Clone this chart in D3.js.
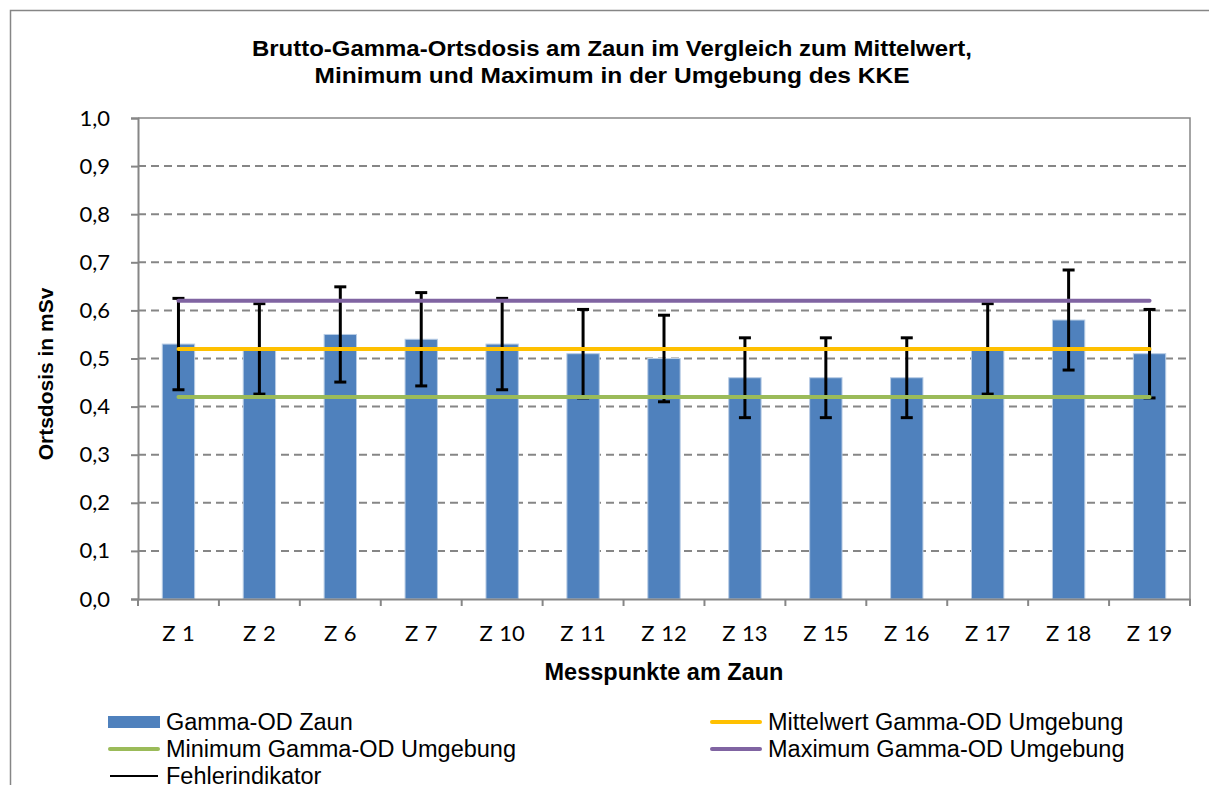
<!DOCTYPE html>
<html><head><meta charset="utf-8">
<script src="https://cdn.jsdelivr.net/npm/d3@7"></script>
<style>body{margin:0;background:#fff}svg{display:block}</style>
</head><body>
<svg id="c" width="1209" height="785"></svg>
<script>
const categories = ["Z 1","Z 2","Z 6","Z 7","Z 10","Z 11","Z 12","Z 13","Z 15","Z 16","Z 17","Z 18","Z 19"];
const zaunValues = [0.53,0.52,0.55,0.54,0.53,0.51,0.50,0.46,0.46,0.46,0.52,0.58,0.51];
const errorValues = [0.095,0.094,0.099,0.097,0.095,0.092,0.090,0.083,0.083,0.083,0.094,0.104,0.092];
const meanValue = 0.52, minValue = 0.42, maxValue = 0.62;
const yTicks = [0,0.1,0.2,0.3,0.4,0.5,0.6,0.7,0.8,0.9,1.0];
const titleLines = ["Brutto-Gamma-Ortsdosis am Zaun im Vergleich zum Mittelwert,","Minimum und Maximum in der Umgebung des KKE"];

const svg = d3.select("#c");
const L=138,R=1190,T=118,B=599;
const x = d3.scaleBand().domain(categories).range([L,R]).paddingInner(0.6).paddingOuter(0.3);
const y = d3.scaleLinear().domain([0,1]).range([B,T]);
const grey="#868686";

svg.append("rect").attr("x",10.5).attr("y",10.5).attr("width",1230).attr("height",800).attr("fill","none").attr("stroke",grey).attr("stroke-width",1.5);

// title
titleLines.forEach((t,i)=>{
  svg.append("text").attr("x",612).attr("y",56+i*27).attr("text-anchor","middle")
    .attr("font-family","Liberation Sans, Arial, sans-serif").attr("font-weight","bold").attr("font-size",22.5)
    .attr("textLength", i===0?720:595).attr("lengthAdjust","spacingAndGlyphs").text(t);
});

// gridlines
svg.append("g").selectAll("line").data(yTicks.filter(d=>d>0&&d<1)).join("line")
  .attr("x1",L).attr("x2",R).attr("y1",d=>y(d)).attr("y2",d=>y(d))
  .attr("stroke",grey).attr("stroke-width",2).attr("stroke-dasharray","8,5");
// plot border top/right
svg.append("path").attr("d",`M${L},${T}H${R}V${B}`).attr("fill","none").attr("stroke",grey).attr("stroke-width",1.5);

// bars
svg.append("g").selectAll("rect").data(zaunValues).join("rect")
  .attr("x",(d,i)=>x(categories[i])).attr("width",x.bandwidth())
  .attr("y",d=>y(d)).attr("height",d=>B-y(d))
  .attr("fill","#4F81BD").attr("stroke","#B9CDE5").attr("stroke-width",1);

// error bars
const eg = svg.append("g").attr("stroke","#000").attr("stroke-width",3);
zaunValues.forEach((v,i)=>{
  const cx = x(categories[i])+x.bandwidth()/2;
  const e = errorValues[i];
  eg.append("line").attr("x1",cx).attr("x2",cx).attr("y1",y(v+e)).attr("y2",y(v-e));
  eg.append("line").attr("x1",cx-6).attr("x2",cx+6).attr("y1",y(v+e)).attr("y2",y(v+e));
  eg.append("line").attr("x1",cx-6).attr("x2",cx+6).attr("y1",y(v-e)).attr("y2",y(v-e));
});

// reference lines
const line = d3.line().x(d=>x(d[0])+x.bandwidth()/2).y(d=>y(d[1]));
[[minValue,"#9BBB59"],[meanValue,"#FFC000"],[maxValue,"#8064A2"]].forEach(([v,c])=>{
  svg.append("path").attr("d",line(categories.map(k=>[k,v]))).attr("fill","none")
    .attr("stroke",c).attr("stroke-width",4).attr("stroke-linecap","round");
});

// y axis
const ya = svg.append("g").attr("transform",`translate(${L},0)`)
  .call(d3.axisLeft(y).tickValues(yTicks).tickSize(7).tickPadding(21).tickFormat(d=>d3.format(".1f")(d).replace(".",",")));
ya.select(".domain").attr("stroke",grey).attr("stroke-width",2);
ya.selectAll(".tick line").attr("stroke",grey).attr("stroke-width",2);
ya.selectAll("text").attr("font-family","Lato, 'Open Sans', sans-serif").attr("font-size",22).attr("fill","#000");

// x axis
const xa = svg.append("g").attr("transform",`translate(0,${B})`)
  .call(d3.axisBottom(x).tickSize(0).tickPadding(26));
xa.select(".domain").attr("stroke",grey).attr("stroke-width",2);
xa.selectAll("text").attr("font-family","Lato, 'Open Sans', sans-serif").attr("font-size",22).attr("fill","#000").attr("word-spacing","1px");
const bounds = d3.range(categories.length+1).map(i=>L+i*x.step());
svg.append("g").selectAll("line").data(bounds).join("line")
  .attr("x1",d=>d).attr("x2",d=>d).attr("y1",B).attr("y2",B+7).attr("stroke",grey).attr("stroke-width",2);

// axis titles
svg.append("text").attr("x",664).attr("y",680).attr("text-anchor","middle")
  .attr("font-family","Liberation Sans, Arial, sans-serif").attr("font-weight","bold").attr("font-size",23.5).text("Messpunkte am Zaun");
svg.append("text").attr("transform","translate(53,374) rotate(-90)").attr("text-anchor","middle")
  .attr("font-family","Liberation Sans, Arial, sans-serif").attr("font-weight","bold").attr("font-size",21).text("Ortsdosis in mSv");

// legend
const legend = [
  {label:"Gamma-OD Zaun", type:"bar", color:"#4F81BD", x:108, y:722},
  {label:"Mittelwert Gamma-OD Umgebung", type:"line", color:"#FFC000", x:710, y:722},
  {label:"Minimum Gamma-OD Umgebung", type:"line", color:"#9BBB59", x:108, y:749},
  {label:"Maximum Gamma-OD Umgebung", type:"line", color:"#8064A2", x:710, y:749},
  {label:"Fehlerindikator", type:"err", color:"#000", x:108, y:776}
];
const lg = svg.append("g");
legend.forEach(d=>{
  if(d.type==="bar") lg.append("rect").attr("x",d.x).attr("y",d.y-6).attr("width",52).attr("height",12).attr("fill",d.color);
  else lg.append("line").attr("x1",d.x+2).attr("x2",d.x+50).attr("y1",d.y).attr("y2",d.y)
    .attr("stroke",d.color).attr("stroke-width",d.type==="err"?2:4).attr("stroke-linecap",d.type==="err"?"butt":"round");
  lg.append("text").attr("x",d.x+58).attr("y",d.y+8).attr("font-family","Liberation Sans, Arial, sans-serif")
    .attr("font-size",23.5).text(d.label);
});
</script>
</body></html>
